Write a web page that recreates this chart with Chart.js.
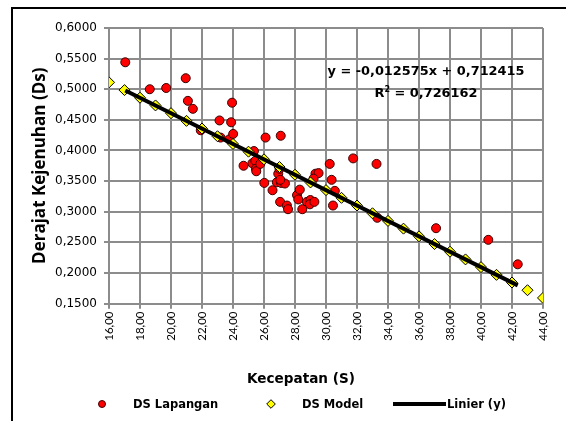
<!DOCTYPE html>
<html>
<head>
<meta charset="utf-8">
<script src="https://cdn.jsdelivr.net/npm/chart.js@4/dist/chart.umd.min.js"></script>
<style>
  html, body { margin: 0; padding: 0; background: #fff; }
  canvas { position: absolute; left: 0; top: 0; }
  #frame { position: absolute; left: 11px; top: 7px; width: 555px; height: 414px;
           border-left: 2px solid #000; border-top: 2px solid #000; box-sizing: border-box; }
  .t { position: absolute; font-family: "DejaVu Sans", sans-serif; font-weight: bold; color: #000; white-space: nowrap; }
  .xtitle { left: 200px; width: 202px; top: 370px; font-size: 13.6px; line-height: 16px; text-align: center; }
  .eq { left: 326px; width: 200px; top: 60px; font-size: 12.9px; line-height: 22px; text-align: center; }
  .lg { top: 397px; font-size: 11.5px; line-height: 14px; }
  .mk { position: absolute; }
</style>
</head>
<body>
<div id="frame"></div>
<canvas id="chart" width="566" height="421"></canvas>
<div class="t xtitle">Kecepatan (S)</div>
<div class="t eq">y = -0,012575x + 0,712415<br>R<sup style="font-size:8px;line-height:0">2</sup> = 0,726162</div>

<div class="mk" style="left:98px;top:400px;width:8px;height:8px;border-radius:50%;background:#ff0000;border:1px solid #400;box-sizing:border-box"></div>
<div class="t lg" style="left:133px">DS Lapangan</div>
<svg class="mk" style="left:266px;top:399px" width="10" height="10" viewBox="0 0 10 10">
  <polygon points="5,0.7 9.3,5 5,9.3 0.7,5" fill="#ffff00" stroke="#000" stroke-width="1"/>
</svg>
<div class="t lg" style="left:302px">DS Model</div>
<div class="mk" style="left:393px;top:402px;width:53px;height:4px;background:#000"></div>
<div class="t lg" style="left:447px">Linier (y)</div>
<script>
// DS Lapangan (data lapangan)
const lapX = [17.05, 18.63, 19.69, 20.95, 21.09, 21.41, 21.92, 23.13, 23.2, 23.76,
  23.88, 23.94, 24.01, 24.68, 25.35, 25.25, 25.44, 25.48, 25.5, 25.76,
  26.1, 26.02, 26.55, 27.08, 26.92, 26.83, 27.1, 27.35, 27.05, 27.04,
  27.48, 27.55, 28.13, 28.21, 28.31, 28.47, 28.77, 28.99, 28.96, 29.25,
  29.32, 29.52, 29.2, 30.24, 30.36, 30.57, 30.45, 31.75, 33.26, 33.31,
  37.1, 40.47, 42.37, 27.0];
const lapY = [0.544, 0.500, 0.502, 0.518, 0.481, 0.468, 0.433, 0.449, 0.421, 0.418,
  0.446, 0.478, 0.427, 0.375, 0.399, 0.379, 0.383, 0.370, 0.366, 0.378,
  0.421, 0.347, 0.335, 0.424, 0.362, 0.348, 0.347, 0.346, 0.352, 0.316,
  0.310, 0.304, 0.327, 0.320, 0.336, 0.304, 0.316, 0.319, 0.312, 0.316,
  0.362, 0.363, 0.354, 0.378, 0.352, 0.334, 0.310, 0.387, 0.378, 0.290,
  0.273, 0.254, 0.214, 0.370];

// DS Model
const modelX = [16, 17, 18, 19, 20, 21, 22, 23, 24, 25, 26, 27, 28, 29, 30,
  31, 32, 33, 34, 35, 36, 37, 38, 39, 40, 41, 42, 43, 44];
const modelY = [0.5112, 0.4986, 0.4861, 0.4735, 0.4609, 0.4483, 0.4358, 0.4232, 0.4106, 0.3980,
  0.3855, 0.3729, 0.3603, 0.3477, 0.3352, 0.3226, 0.3100, 0.2974, 0.2849, 0.2723,
  0.2597, 0.2471, 0.2346, 0.2220, 0.2094, 0.1968, 0.1843, 0.1717, 0.1591];

// Linier (y): garis tren dari data lapangan
const trendX = [17.05, 42.37];
const trendY = [0.4980, 0.1796];

const pts = (xs, ys) => xs.map((x, i) => ({ x, y: ys[i] }));
const comma = (v, d) => Number(v).toFixed(d).replace(".", ",");

// garis grid gaya Excel, digambar dari tick skala
const excelGrid = {
  id: "excelGrid",
  beforeDatasetsDraw(chart) {
    const { ctx, chartArea: a, scales: { x, y } } = chart;
    ctx.save();
    ctx.strokeStyle = "#8c8c8c";
    ctx.lineWidth = 2;
    ctx.beginPath();
    x.ticks.forEach((t) => {
      const px = Math.round(x.getPixelForValue(t.value));
      ctx.moveTo(px, a.top);
      ctx.lineTo(px, a.bottom + 5);
    });
    y.ticks.forEach((t) => {
      const py = Math.round(y.getPixelForValue(t.value));
      ctx.moveTo(a.left - 5, py);
      ctx.lineTo(a.right, py);
    });
    ctx.stroke();
    ctx.restore();
  },
};

new Chart(document.getElementById("chart"), {
  type: "scatter",
  data: {
    datasets: [
      { label: "DS Lapangan", data: pts(lapX, lapY), order: 3,
        backgroundColor: "#ff0000", borderColor: "#3a0000", borderWidth: 1, pointRadius: 4.5 },
      { label: "DS Model", data: pts(modelX, modelY), order: 2, pointStyle: "rectRot",
        backgroundColor: "#ffff00", borderColor: "#000", borderWidth: 1, pointRadius: 5.5 },
      { label: "Linier (y)", data: pts(trendX, trendY), order: 1, showLine: true,
        borderColor: "#000", backgroundColor: "#000", borderWidth: 4, pointRadius: 0 },
    ],
  },
  options: {
    responsive: false,
    animation: false,
    layout: { padding: { left: 0, right: 23, top: 28, bottom: 0 } },
    plugins: { legend: { display: false }, tooltip: { enabled: false } },
    scales: {
      x: {
        type: "linear", min: 16, max: 44,
        afterFit: (s) => { s.height = 117.5; },
        grid: { color: "#8c8c8c", lineWidth: 2, tickLength: 5 },
        border: { color: "#8c8c8c", width: 2 },
        ticks: { stepSize: 2, autoSkip: false, minRotation: 90, maxRotation: 90, padding: 3,
                 color: "#000", font: { family: "Lato", size: 11.5 }, callback: (v) => comma(v, 2) },
      },
      y: {
        type: "linear", min: 0.15, max: 0.6,
        afterFit: (s) => { s.width = 109; },
        grid: { color: "#8c8c8c", lineWidth: 2, tickLength: 5 },
        border: { color: "#8c8c8c", width: 2 },
        title: { display: true, text: "Derajat Kejenuhan (Ds)", color: "#000", padding: { top: 30, bottom: 0 },
                 font: { family: "Open Sans", size: 17, weight: "bold" } },
        ticks: { stepSize: 0.05, padding: 7, color: "#000",
                 font: { family: "DejaVu Sans", size: 12 }, callback: (v) => comma(v, 4) },
      },
    },
  },
  plugins: [excelGrid],
});
</script>
</body>
</html>
